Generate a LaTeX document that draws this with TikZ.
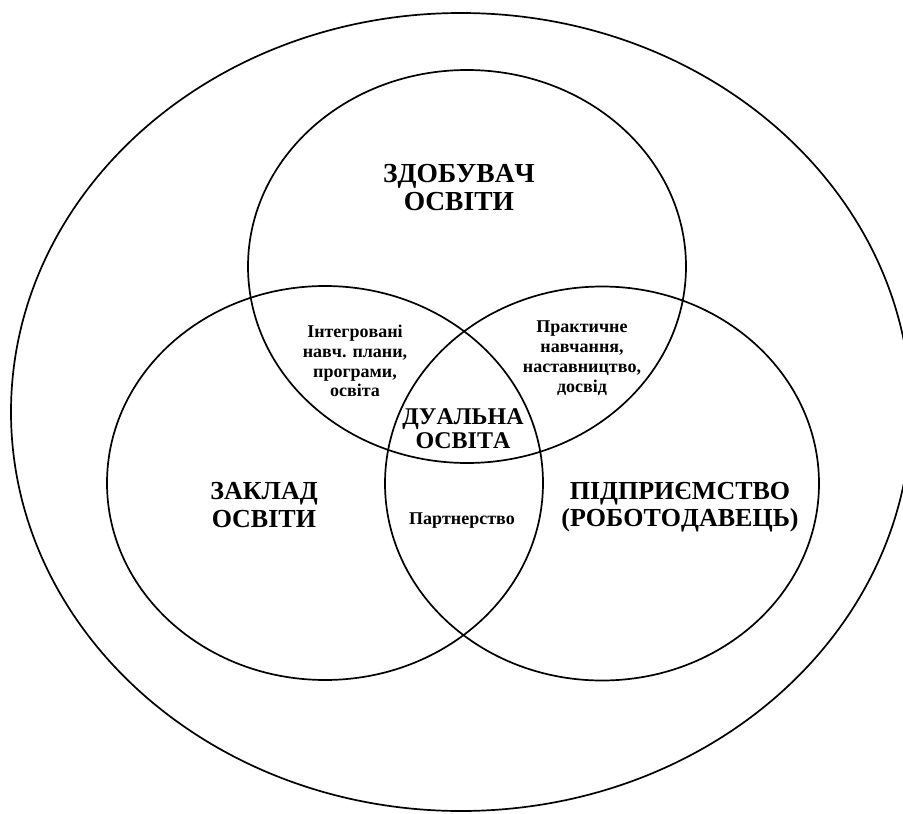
\documentclass[tikz,border=0pt]{standalone}
\usepackage{fontspec}
\setmainfont{Liberation Serif}[Kerning=Off]
\begin{document}
\begin{tikzpicture}[x=1pt,y=-1pt,
  ring/.style={draw=black,line width=1.7pt},
  big/.style={font=\bfseries\fontsize{26}{27.5}\selectfont,align=center,inner sep=0pt},
  mid/.style={font=\bfseries\fontsize{24}{24}\selectfont,align=center,inner sep=0pt},
  small/.style={font=\bfseries\fontsize{18}{19.8}\selectfont,align=center,inner sep=0pt}]
\useasboundingbox (0,0) rectangle (903,814);
\begin{scope}
  \clip (0,0) rectangle (903,814);
  \draw[ring] (461,412) ellipse [x radius=450, y radius=399];
\end{scope}
\draw[ring] (467,266.5) ellipse [x radius=219, y radius=196.5];
\draw[ring] (325,483) ellipse [x radius=218, y radius=197];
\draw[ring] (602,483.5) ellipse [x radius=217, y radius=197];
\node[big,font=\bfseries\fontsize{27.5}{28}\selectfont] (student) at (459,188) {ЗДОБУВАЧ\\ОСВІТИ};
\node[big] (school) at (264,505) {ЗАКЛАД\\ОСВІТИ};
\node[big] (company) at (680,507) {ПІДПРИЄМСТВО\\(РОБОТОДАВЕЦЬ)};
\node[mid] (dual) at (463,429) {ДУАЛЬНА\\ОСВІТА};
\node[small] (integr) at (355,361) {Інтегровані\\навч. плани,\\програми,\\освіта};
\node[small] (pract) at (582,358) {Практичне\\навчання,\\наставництво,\\досвід};
\node[small] (partner) at (462,521) {Партнерство};
\end{tikzpicture}
\end{document}
